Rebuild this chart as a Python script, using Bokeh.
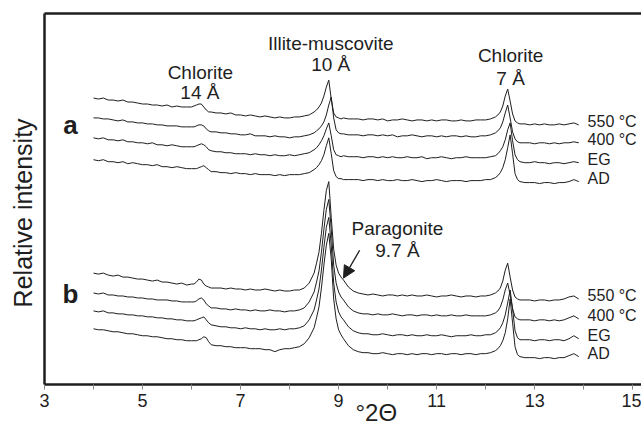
from bokeh.plotting import figure
from bokeh.models import Range1d, LinearAxis, FixedTicker, Label, Arrow, NormalHead
from bokeh.embed import file_html
from bokeh.resources import INLINE

# ---------------- data (°2θ grid and relative intensities, offset traces) ----------------
two_theta = [
    4.0, 4.1, 4.2, 4.3, 4.4, 4.5, 4.6, 4.7, 4.8, 4.9, 5.0, 5.1, 5.2, 5.3, 5.4, 5.5, 5.6, 5.7, 5.8, 5.9, 6.0,
    6.05, 6.1, 6.15, 6.2, 6.25, 6.3, 6.35, 6.4, 6.5,
    6.6, 6.7, 6.8, 6.9, 7.0, 7.1, 7.2, 7.3, 7.4, 7.5, 7.6, 7.7, 7.8, 7.9, 8.0, 8.1, 8.2, 8.3,
    8.4, 8.5, 8.55, 8.6, 8.65, 8.7, 8.75, 8.8, 8.85, 8.9, 8.95, 9.0, 9.05, 9.1, 9.2, 9.3,
    9.4, 9.5, 9.6, 9.7, 9.8, 9.9, 10.0, 10.1, 10.2, 10.3, 10.4, 10.5, 10.6, 10.7, 10.8, 10.9,
    11.0, 11.1, 11.2, 11.3, 11.4, 11.5, 11.6, 11.7, 11.8, 11.9, 12.0,
    12.1, 12.2, 12.25, 12.3, 12.35, 12.4, 12.45, 12.5, 12.55, 12.6, 12.65, 12.7, 12.8,
    12.9, 13.0, 13.1, 13.2, 13.3, 13.4, 13.5, 13.6, 13.7, 13.8, 13.9,
]

a_550 = [
    288, 287, 288, 286, 286, 285, 286, 284, 284, 283, 282, 282, 281, 281, 280, 281, 279, 280, 279, 279, 279,
    280, 281, 282, 282, 279, 276, 274, 274, 273,
    273, 272, 273, 271, 271, 270, 271, 270, 269, 270, 269, 268, 269, 268, 268, 269, 269, 270,
    271, 274, 276, 279, 283, 290, 299, 306, 287, 273, 269, 268, 267, 268, 267, 267,
    267, 266, 267, 267, 266, 267, 265, 266, 266, 267, 266, 265, 266, 266, 265, 266,
    265, 266, 266, 265, 265, 266, 265, 265, 266, 266, 266,
    267, 269, 271, 274, 280, 290, 297, 285, 272, 265, 263, 262, 262,
    261, 262, 261, 262, 261, 261, 262, 261, 262, 263, 261,
]
a_400 = [
    268, 268, 267, 267, 266, 265, 266, 264, 264, 263, 263, 262, 262, 261, 261, 260, 260, 260, 259, 259, 259,
    259, 260, 261, 261, 260, 257, 255, 254, 254,
    253, 253, 252, 252, 251, 251, 252, 250, 250, 250, 249, 250, 249, 249, 248, 249, 249, 250,
    251, 253, 255, 257, 260, 264, 271, 281, 289, 268, 256, 253, 252, 252, 251, 251,
    251, 250, 251, 251, 250, 251, 250, 251, 249, 250, 250, 251, 250, 249, 250, 250,
    249, 250, 249, 250, 250, 249, 250, 249, 249, 250, 250,
    251, 253, 255, 258, 264, 273, 281, 268, 254, 247, 244, 243, 243,
    243, 242, 243, 243, 242, 243, 242, 243, 243, 244, 243,
]
a_eg = [
    248, 247, 248, 246, 246, 245, 246, 244, 244, 243, 243, 242, 243, 241, 241, 240, 241, 240, 239, 239, 239,
    239, 240, 241, 242, 241, 239, 236, 235, 234,
    234, 233, 233, 232, 232, 232, 231, 232, 231, 231, 230, 231, 230, 230, 231, 230, 231, 232,
    233, 236, 238, 241, 245, 250, 257, 263, 250, 236, 231, 230, 229, 230, 229, 229,
    229, 228, 229, 229, 228, 229, 228, 229, 228, 228, 229, 228, 228, 229, 227, 228,
    228, 229, 228, 227, 228, 228, 229, 228, 228, 228, 228,
    229, 230, 232, 235, 239, 246, 256, 263, 245, 231, 226, 224, 223,
    223, 224, 223, 223, 222, 223, 223, 222, 223, 224, 223,
]
a_ad = [
    226, 225, 226, 224, 224, 223, 224, 222, 223, 222, 221, 221, 220, 221, 219, 219, 218, 219, 218, 217, 217,
    217, 217, 218, 219, 220, 218, 216, 214, 214,
    213, 213, 212, 213, 212, 212, 211, 212, 211, 211, 211, 210, 211, 210, 211, 211, 211, 212,
    213, 216, 218, 221, 225, 231, 240, 248, 232, 215, 209, 207, 207, 206, 206, 206,
    206, 205, 206, 206, 205, 206, 205, 205, 206, 205, 205, 206, 205, 204, 205, 205,
    206, 205, 204, 205, 205, 205, 204, 205, 205, 205, 206,
    206, 208, 210, 213, 218, 226, 238, 251, 232, 212, 206, 204, 203,
    203, 203, 202, 203, 203, 202, 203, 203, 204, 206, 204,
]
b_550 = [
    112, 111, 112, 110, 109, 110, 108, 108, 107, 106, 106, 105, 104, 105, 103, 103, 102, 101, 102, 100, 101,
    101, 103, 106, 105, 101, 99, 98, 97, 97,
    97, 96, 97, 96, 96, 95, 96, 95, 95, 96, 95, 94, 95, 94, 94, 95, 95, 97,
    102, 112, 122, 133, 152, 175, 195, 204, 168, 136, 120, 112, 108, 105, 98, 94,
    92, 91, 90, 91, 90, 89, 90, 90, 89, 90, 89, 90, 89, 89, 90, 89,
    88, 89, 89, 90, 89, 88, 89, 89, 88, 89, 89,
    90, 92, 94, 97, 104, 115, 122, 108, 95, 88, 86, 85, 85,
    85, 84, 85, 85, 84, 85, 85, 86, 88, 89, 86,
]
b_400 = [
    92, 91, 92, 90, 90, 89, 89, 88, 88, 87, 87, 86, 86, 85, 85, 85, 84, 84, 83, 83, 83,
    83, 84, 86, 87, 85, 81, 79, 77, 77,
    76, 76, 75, 76, 75, 75, 74, 75, 74, 74, 75, 74, 74, 73, 74, 74, 75, 77,
    83, 93, 103, 114, 133, 156, 176, 186, 156, 120, 102, 93, 88, 85, 78, 74,
    72, 71, 71, 70, 71, 70, 70, 71, 70, 69, 70, 70, 69, 70, 70, 69,
    70, 69, 69, 70, 69, 69, 70, 69, 69, 69, 69,
    70, 72, 74, 78, 85, 95, 102, 90, 76, 68, 66, 65, 65,
    65, 64, 65, 65, 64, 65, 64, 65, 67, 69, 66,
]
b_eg = [
    74, 73, 74, 72, 72, 71, 71, 70, 70, 69, 69, 68, 68, 67, 67, 66, 66, 65, 65, 64, 64,
    64, 65, 66, 67, 68, 65, 62, 60, 59,
    58, 58, 57, 57, 56, 57, 56, 56, 55, 56, 55, 55, 56, 55, 56, 56, 57, 59,
    65, 75, 85, 96, 115, 138, 158, 168, 140, 102, 83, 73, 68, 65, 58, 54,
    52, 51, 51, 50, 50, 51, 50, 49, 50, 50, 49, 50, 49, 49, 50, 49,
    49, 50, 49, 48, 49, 49, 49, 50, 49, 49, 50,
    50, 52, 54, 57, 62, 70, 82, 95, 76, 54, 47, 45, 45,
    45, 44, 45, 45, 44, 45, 45, 44, 46, 49, 46,
]
b_ad = [
    56, 55, 55, 54, 53, 53, 52, 51, 51, 50, 49, 49, 48, 48, 47, 46, 46, 45, 45, 44, 44,
    44, 44, 45, 46, 48, 47, 43, 40, 39,
    39, 38, 38, 37, 37, 37, 36, 36, 36, 35, 35, 33, 35, 36, 36, 37, 38, 41,
    47, 57, 67, 78, 97, 120, 140, 152, 126, 86, 66, 55, 50, 46, 39, 35,
    33, 32, 32, 31, 31, 32, 31, 30, 31, 31, 30, 31, 30, 31, 31, 30,
    31, 31, 30, 31, 31, 30, 31, 31, 30, 31, 31,
    32, 34, 36, 39, 44, 52, 66, 86, 62, 38, 30, 28, 27,
    27, 27, 26, 27, 27, 26, 27, 27, 29, 31, 28,
]

trace_names = ["550 °C", "400 °C", "EG", "AD"]
group_a = [a_550, a_400, a_eg, a_ad]
group_b = [b_550, b_400, b_eg, b_ad]
x_ticks = [3, 5, 7, 9, 11, 13, 15]
x_minor_ticks = [4, 6, 8, 10, 12, 14]
x_title = "°2Θ"
y_title = "Relative intensity"

# ---------------- figure ----------------
FONT = "Liberation Sans"
INK = "#1e1e1e"
NBSP = "\u00a0"

p = figure(width=641, height=428, x_range=Range1d(3, 15.18), y_range=Range1d(0, 373),
           output_backend="svg", toolbar_location=None,
           x_axis_location=None, y_axis_location=None,
           min_border_left=44, min_border_right=0, min_border_top=13, min_border_bottom=10)
p.outline_line_color = None
p.background_fill_color = "white"
p.border_fill_color = "white"
for g in p.grid:
    g.visible = False

xa = LinearAxis(ticker=FixedTicker(ticks=x_ticks, minor_ticks=x_minor_ticks))
xa.axis_line_width = 2.5
xa.axis_line_color = INK
xa.major_tick_in = 0
xa.major_tick_out = 5
xa.minor_tick_in = 0
xa.minor_tick_out = 5
xa.major_tick_line_color = "#888888"
xa.minor_tick_line_color = "#888888"
xa.major_label_text_font = FONT
xa.major_label_text_font_size = "18px"
xa.major_label_text_color = INK
xa.major_label_standoff = 4
xa.axis_label = NBSP * 10 + x_title
xa.axis_label_text_font = FONT
xa.axis_label_text_font_size = "24px"
xa.axis_label_text_font_style = "normal"
xa.axis_label_text_color = INK
xa.axis_label_standoff = -11
p.add_layout(xa, "below")

ya = LinearAxis(ticker=FixedTicker(ticks=[]))
ya.axis_line_width = 2.5
ya.axis_line_color = INK
ya.major_tick_in = 0
ya.major_tick_out = 0
ya.minor_tick_in = 0
ya.minor_tick_out = 0
ya.major_label_standoff = 0
ya.axis_label = y_title + NBSP * 4
ya.axis_label_text_font = FONT
ya.axis_label_text_font_size = "25px"
ya.axis_label_text_font_style = "normal"
ya.axis_label_text_color = INK
ya.axis_label_standoff = 8
p.add_layout(ya, "left")

ta = LinearAxis(ticker=FixedTicker(ticks=[]))
ta.axis_line_width = 2.5
ta.axis_line_color = INK
ta.major_tick_in = 0
ta.major_tick_out = 0
ta.minor_tick_in = 0
ta.minor_tick_out = 0
ta.major_label_standoff = 0
p.add_layout(ta, "above")

for group in (group_a, group_b):
    for name, ys in zip(trace_names, group):
        p.line(two_theta, ys, line_color=INK, line_width=1)
        tail = ys[-6:]
        p.add_layout(Label(x=14.08, y=sum(tail) / len(tail) + 3, text=name,
                           text_font=FONT, text_font_size="16px", text_color=INK,
                           text_align="left", text_baseline="middle"))

def note(x, y, txt, size="19px", style="normal"):
    p.add_layout(Label(x=x, y=y, text=txt, text_font=FONT, text_font_size=size,
                       text_font_style=style, text_color=INK, text_align="center",
                       text_baseline="middle"))

note(6.18, 314, "Chlorite")
note(6.17, 294, "14 Å")
note(8.84, 343, "Illite-muscovite")
note(8.84, 322, "10 Å")
note(12.51, 331, "Chlorite")
note(12.51, 308, "7 Å")
note(10.2, 157, "Paragonite")
note(10.2, 135, "9.7 Å")
note(3.53, 261, "a", size="26px", style="bold")
note(3.53, 91, "b", size="26px", style="bold")

p.add_layout(Arrow(end=NormalHead(size=12, fill_color=INK, line_color=INK),
                   x_start=9.43, y_start=135, x_end=9.10, y_end=107,
                   line_color=INK, line_width=1.3))

open("out.html", "w").write(file_html(p, INLINE))
